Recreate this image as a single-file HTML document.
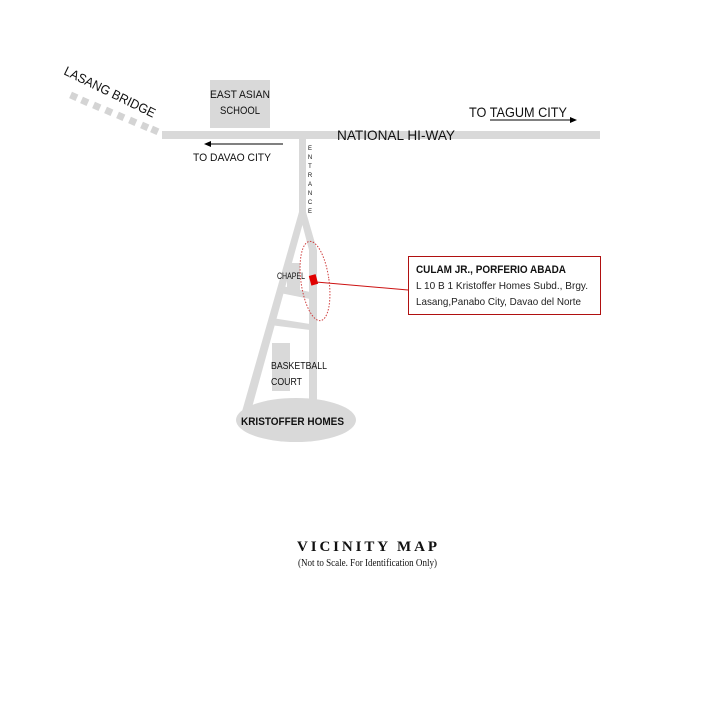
<!DOCTYPE html>
<html><head><meta charset="utf-8"><style>
html,body{margin:0;padding:0;background:#fff;}
svg{display:block}
</style></head><body>
<svg width="720" height="720" viewBox="0 0 720 720" xmlns="http://www.w3.org/2000/svg" font-family="Liberation Sans, sans-serif">
<rect width="720" height="720" fill="#fff"/>
<g fill="#d4d4d4">
<rect x="70" y="93" width="7" height="7" transform="rotate(24 74 97)"/>
<rect x="81" y="98" width="7" height="7" transform="rotate(24 85 102)"/>
<rect x="93" y="103" width="7" height="7" transform="rotate(24 97 107)"/>
<rect x="105" y="108" width="7" height="7" transform="rotate(24 109 112)"/>
<rect x="117" y="113" width="7" height="7" transform="rotate(24 121 117)"/>
<rect x="129" y="118" width="7" height="7" transform="rotate(24 133 122)"/>
<rect x="141" y="123" width="7" height="7" transform="rotate(24 145 127)"/>
<rect x="151" y="127" width="7" height="7" transform="rotate(24 155 131)"/>
</g>
<text x="0" y="0" font-size="13" transform="translate(63,74) rotate(26)" fill="#111" textLength="100" lengthAdjust="spacingAndGlyphs">LASANG BRIDGE</text>
<rect x="162" y="131" width="438" height="8" fill="#d9d9d9"/>
<rect x="210" y="80" width="60" height="48" fill="#d9d9d9"/>
<text x="210" y="98" font-size="11" fill="#111" textLength="60" lengthAdjust="spacingAndGlyphs">EAST ASIAN</text>
<text x="220" y="114" font-size="11" fill="#111" textLength="40" lengthAdjust="spacingAndGlyphs">SCHOOL</text>
<text x="337" y="140" font-size="14" fill="#111" textLength="118" lengthAdjust="spacingAndGlyphs">NATIONAL HI-WAY</text>
<text x="469" y="117" font-size="14" fill="#111" textLength="98" lengthAdjust="spacingAndGlyphs">TO TAGUM CITY</text>
<line x1="490" y1="120" x2="572" y2="120" stroke="#000" stroke-width="1"/>
<polygon points="577,120 570,117 570,123" fill="#000"/>
<line x1="210" y1="144" x2="283" y2="144" stroke="#000" stroke-width="1"/>
<polygon points="204,144 211,141 211,147" fill="#000"/>
<text x="193" y="161" font-size="11" fill="#111" textLength="78" lengthAdjust="spacingAndGlyphs">TO DAVAO CITY</text>
<rect x="299" y="138" width="7" height="80" fill="#d9d9d9"/>
<g font-size="6" fill="#111" text-anchor="middle">
<text x="310" y="150">E</text><text x="310" y="159">N</text><text x="310" y="168">T</text><text x="310" y="177">R</text><text x="310" y="186">A</text><text x="310" y="195">N</text><text x="310" y="204">C</text><text x="310" y="213">E</text>
</g>
<polygon points="299,212 306,212 248,422 239,422" fill="#d9d9d9"/>
<polygon points="299,212 306,212 317,250 317,400 309,400 309,250" fill="#d9d9d9"/>
<polygon points="282,286 310,292 310,299 280,293" fill="#d9d9d9"/>
<polygon points="272,318 310,324 310,330 270,325" fill="#d9d9d9"/>
<rect x="287" y="263" width="13" height="27" fill="#d9d9d9"/>
<rect x="272" y="343" width="18" height="48" fill="#d9d9d9"/>
<ellipse cx="296" cy="420" rx="60" ry="22" fill="#d9d9d9"/>
<text x="277" y="279" font-size="9" fill="#111" textLength="28" lengthAdjust="spacingAndGlyphs">CHAPEL</text>
<text x="271" y="369" font-size="10" fill="#111" textLength="56" lengthAdjust="spacingAndGlyphs">BASKETBALL</text>
<text x="271" y="385" font-size="10" fill="#111" textLength="31" lengthAdjust="spacingAndGlyphs">COURT</text>
<text x="241" y="425" font-size="11" font-weight="bold" fill="#111" textLength="103" lengthAdjust="spacingAndGlyphs">KRISTOFFER HOMES</text>
<ellipse cx="315" cy="281" rx="14" ry="40" transform="rotate(-8 315 281)" fill="none" stroke="#d04040" stroke-width="1" stroke-dasharray="1.5 1.5"/>
<rect x="310" y="275" width="7" height="10" fill="#e00000" transform="rotate(-15 313 280)"/>
<line x1="316" y1="282" x2="408" y2="290" stroke="#cc1111" stroke-width="1"/>
<rect x="408.5" y="256.5" width="192" height="58" fill="#fff" stroke="#b01010" stroke-width="1"/>
<text x="416" y="273" font-size="11" font-weight="bold" fill="#111" textLength="150" lengthAdjust="spacingAndGlyphs">CULAM JR., PORFERIO ABADA</text>
<text x="416" y="289" font-size="10.5" fill="#222" textLength="172" lengthAdjust="spacingAndGlyphs">L 10 B 1 Kristoffer Homes Subd., Brgy.</text>
<text x="416" y="305" font-size="10.5" fill="#222" textLength="165" lengthAdjust="spacingAndGlyphs">Lasang,Panabo City, Davao del Norte</text>
<text x="297" y="551" font-family="Liberation Serif, serif" font-size="15" font-weight="bold" fill="#111" textLength="140" lengthAdjust="spacing">VICINITY MAP</text>
<text x="298" y="566" font-family="Liberation Serif, serif" font-size="10" fill="#111" textLength="139" lengthAdjust="spacingAndGlyphs">(Not to Scale. For Identification Only)</text>
</svg>
</body></html>
